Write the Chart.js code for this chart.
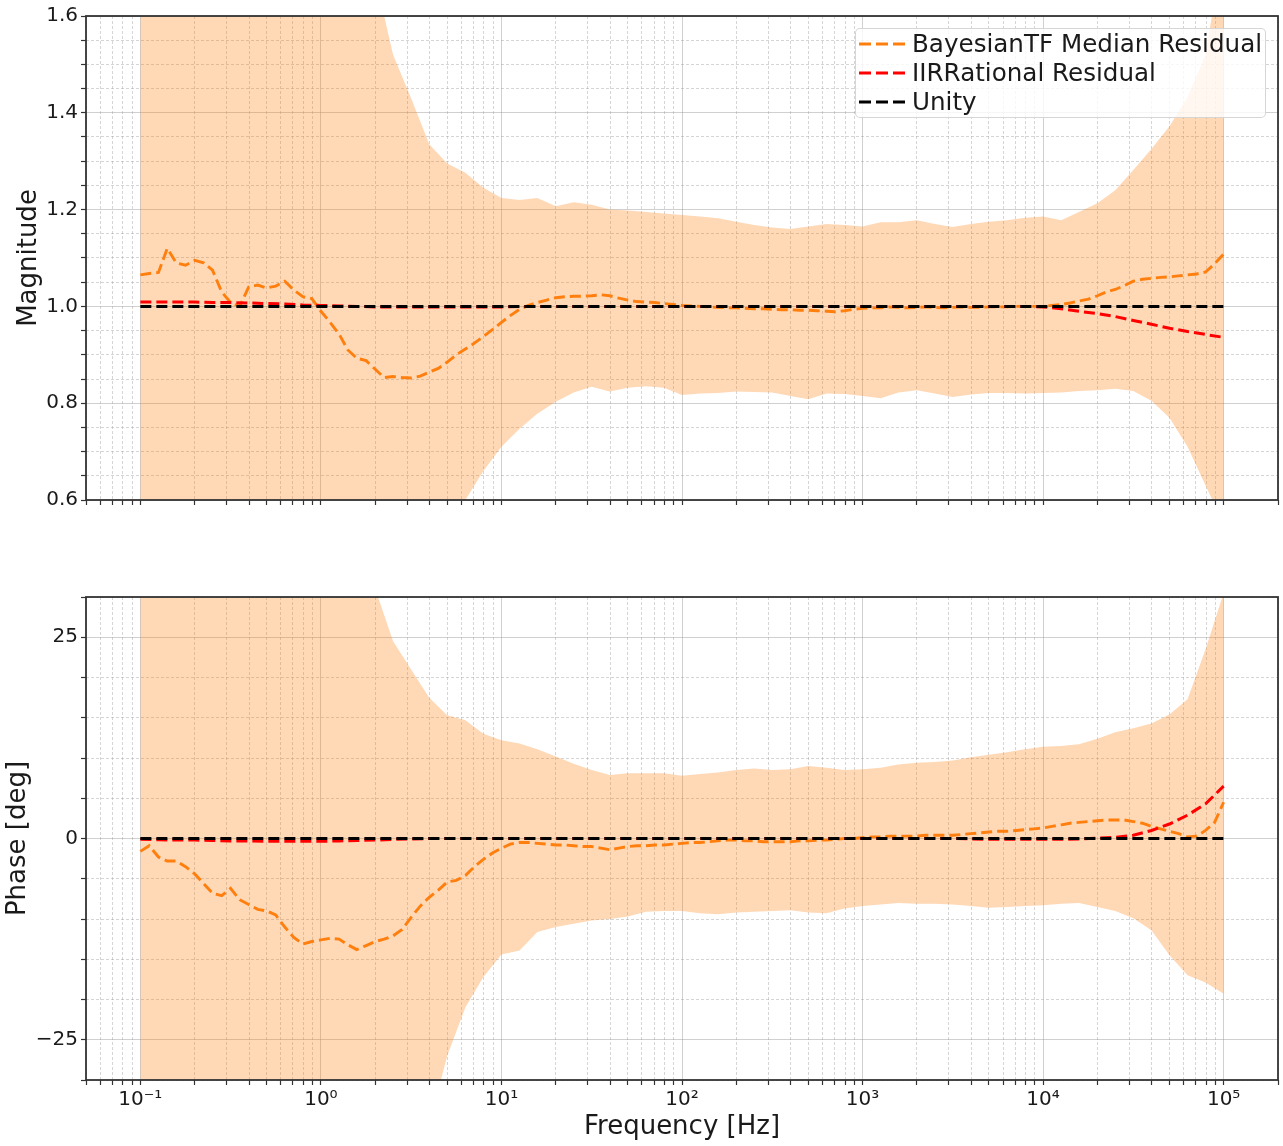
<!DOCTYPE html>
<html><head><meta charset="utf-8">
<script src="https://cdn.jsdelivr.net/npm/chart.js@4.4.1/dist/chart.umd.min.js"></script>
<style>
html,body{margin:0;padding:0;background:#fff;}
#wrap{position:relative;width:1283px;height:1146px;overflow:hidden;background:#fff;}
canvas{position:absolute;left:0;}
#c1{top:0;}
#c2{top:560px;}
#legend{position:absolute;left:855px;top:28px;width:409px;height:88px;border:1px solid rgba(204,204,204,0.8);border-radius:5px;background:rgba(255,255,255,0.8);font-family:'DejaVu Sans';font-size:24.6px;color:#1a1a1a;}
.row{position:absolute;left:0;height:29px;display:flex;align-items:center;white-space:nowrap;}
.row svg{margin-left:3px;margin-right:7px;display:block;}
</style></head>
<body><div id="wrap">
<canvas id="c1" width="1283" height="520"></canvas>
<canvas id="c2" width="1283" height="586"></canvas>
<div id="legend"></div>
</div>
<script>
// ---------- data ----------
const freqFine = [0.1,0.112,0.126,0.141,0.158,0.178,0.2,0.224,0.251,0.282,0.316,0.355,0.398,0.447,0.501,0.562,0.631,0.708,0.794,0.891,
 1,1.12,1.26,1.41,1.58,1.78,2,2.24,2.51,2.82,3.16,3.55,3.98,4.47,5.01,5.62,6.31,7.08,7.94,8.91,
 10,11.2,12.6,14.1,15.8,17.8,20,22.4,25.1,28.2,31.6,35.5,39.8,44.7,50.1,56.2,63.1,70.8,79.4,89.1,
 100,112,126,141,158,178,200,224,251,282,316,355,398,447,501,562,631,708,794,891,
 1000,1120,1260,1410,1580,1780,2000,2240,2510,2820,3160,3550,3980,4470,5010,5620,6310,7080,7940,8910,
 10000,11200,12600,14100,15800,17800,20000,22400,25100,28200,31600,35500,39800,44700,50100,56200,63100,70800,79400,89100,
 100000];
const freqCoarse = [0.1,0.126,0.158,0.2,0.251,0.316,0.398,0.501,0.631,0.794,
 1,1.26,1.58,2,2.51,3.16,3.98,5.01,6.31,7.94,
 10,12.6,15.8,20,25.1,31.6,39.8,50.1,63.1,79.4,
 100,126,158,200,251,316,398,501,631,794,
 1000,1260,1580,2000,2510,3160,3980,5010,6310,7940,
 10000,12600,15800,20000,25100,31600,39800,50100,63100,79400,
 100000];
const unityFreq = [0.1, 100000];

const magMedian = [1.065,1.068,1.070,1.120,1.090,1.085,1.095,1.090,1.075,1.030,
 1.008,1.000,1.040,1.044,1.038,1.042,1.052,1.034,1.020,1.016,
 0.990,0.968,0.943,0.910,0.893,0.888,0.870,0.853,0.855,0.853,
 0.852,0.856,0.864,0.872,0.885,0.900,0.912,0.924,0.938,0.952,
 0.967,0.981,0.994,1.002,1.008,1.013,1.018,1.020,1.021,1.021,
 1.022,1.024,1.022,1.017,1.013,1.010,1.009,1.008,1.006,1.004,
 1.002,1.001,1.000,0.999,0.998,0.997,0.997,0.996,0.995,0.995,
 0.994,0.993,0.993,0.992,0.992,0.991,0.990,0.989,0.991,0.994,
 0.996,0.997,0.997,0.999,0.998,0.997,0.998,0.999,0.998,0.997,
 0.998,0.999,0.998,0.998,0.999,0.999,0.999,1.000,1.000,1.000,
 1.000,1.002,1.004,1.007,1.011,1.015,1.022,1.030,1.035,1.043,
 1.052,1.056,1.058,1.060,1.061,1.063,1.065,1.067,1.071,1.088,
 1.108];
const magIIR = [1.009,1.009,1.009,1.009,1.008,1.008,1.007,1.006,1.005,1.003,
 1.002,1.001,1.000,0.999,0.999,0.999,0.999,0.999,0.999,0.999,
 0.999,1.000,1.000,1.000,1.000,1.000,1.000,1.000,1.000,1.000,
 1.000,1.000,1.000,1.000,1.000,1.000,1.000,1.000,1.000,1.000,
 1.000,1.000,1.000,1.000,1.000,1.000,1.000,1.000,1.000,1.000,
 0.999,0.995,0.990,0.985,0.979,0.971,0.963,0.955,0.948,0.942,
 0.936];
const magUnity = [1, 1];
const magUpper = [3.0,2.9,2.8,2.7,2.6,2.5,2.4,2.3,2.2,2.1,
 2.0,1.9,1.8,1.68,1.52,1.43,1.335,1.295,1.276,1.245,
 1.224,1.22,1.224,1.207,1.215,1.21,1.2,1.198,1.195,1.192,
 1.189,1.186,1.182,1.175,1.168,1.163,1.16,1.165,1.17,1.168,
 1.165,1.174,1.174,1.178,1.17,1.164,1.17,1.175,1.178,1.183,
 1.186,1.178,1.195,1.213,1.24,1.282,1.325,1.372,1.432,1.52,
 1.75];
const magLower = [-0.4,-0.3,-0.2,-0.1,0.0,0.1,0.15,0.2,0.25,0.3,
 0.35,0.38,0.41,0.44,0.47,0.5,0.52,0.545,0.6,0.66,
 0.71,0.747,0.778,0.803,0.822,0.834,0.824,0.832,0.835,0.832,
 0.817,0.82,0.821,0.824,0.823,0.822,0.815,0.808,0.82,0.819,
 0.815,0.81,0.822,0.827,0.82,0.813,0.818,0.821,0.821,0.82,
 0.821,0.822,0.825,0.827,0.83,0.825,0.805,0.77,0.71,0.63,
 0.55];

const phaseMedian = [-1.6,-0.9,-2.3,-2.8,-2.8,-3.5,-4.4,-5.6,-6.8,-7.1,
 -6.2,-7.6,-8.2,-8.8,-9.0,-9.5,-11.0,-12.3,-13.1,-12.8,
 -12.6,-12.4,-12.5,-13.2,-13.8,-13.3,-12.8,-12.5,-12.1,-11.3,
 -9.8,-8.4,-7.3,-6.4,-5.4,-5.2,-4.6,-3.5,-2.6,-1.8,
 -1.2,-0.7,-0.5,-0.5,-0.6,-0.7,-0.8,-0.8,-0.9,-1.0,
 -1.0,-1.2,-1.4,-1.2,-1.0,-0.9,-0.9,-0.8,-0.8,-0.7,
 -0.6,-0.5,-0.5,-0.4,-0.3,-0.2,-0.2,-0.3,-0.3,-0.4,
 -0.4,-0.4,-0.4,-0.3,-0.3,-0.2,-0.2,-0.1,0.0,0.0,
 0.1,0.2,0.2,0.3,0.3,0.3,0.3,0.4,0.4,0.4,
 0.4,0.5,0.6,0.7,0.8,0.9,0.9,1.0,1.1,1.2,
 1.3,1.5,1.7,1.9,2.0,2.1,2.2,2.3,2.3,2.3,
 2.1,1.9,1.5,1.2,0.9,0.6,0.2,0.3,1.0,2.0,
 4.5];
const phaseIIR = [-0.1,-0.15,-0.2,-0.2,-0.25,-0.3,-0.3,-0.35,-0.35,-0.35,
 -0.35,-0.3,-0.25,-0.2,-0.1,-0.05,0,0,0,0,
 0,0,0,0,0,0,0,0,0,0,
 0,0,0,0,0,0,0,0,0,0,
 0,0,0,0,0,0,-0.05,-0.1,-0.1,-0.1,
 -0.1,-0.1,-0.05,0.05,0.15,0.4,1.0,1.8,2.9,4.3,
 6.5];
const phaseUnity = [0, 0];
const phaseUpper = [80,76,72,68,64,60,57,54,51,48,
 45,41,37,31,24.5,21.0,17.5,15.3,14.7,13.0,
 12.2,11.8,11.1,10.2,9.3,8.5,7.9,8.1,8.1,8.1,
 7.8,8.0,8.2,8.5,8.7,8.5,8.6,9.0,8.8,8.5,
 8.6,8.8,9.2,9.4,9.5,9.7,10.1,10.4,10.7,11.1,
 11.4,11.5,11.7,12.4,13.2,13.7,14.3,15.4,17.3,23.5,
 30.5];
const phaseLower = [-90,-85,-80,-75,-70,-66,-62,-58,-55,-52,
 -49,-46,-44,-41.5,-40,-38,-35.5,-27.0,-21.0,-17.2,
 -14.4,-13.9,-11.6,-11.0,-10.6,-10.2,-10.0,-9.7,-9.1,-9.0,
 -9.0,-9.3,-9.4,-9.2,-9.1,-9.0,-8.9,-9.2,-9.3,-8.7,
 -8.4,-8.2,-8.0,-8.1,-8.1,-8.2,-8.4,-8.6,-8.5,-8.4,
 -8.3,-8.1,-8.0,-8.5,-9.0,-9.9,-11.4,-14.5,-17.0,-17.9,
 -19.3];

const seriesLabels = ['BayesianTF Median Residual', 'IIRRational Residual', 'Unity'];
const xAxisTitle = 'Frequency [Hz]';
const magTitle = 'Magnitude';
const phaseTitle = 'Phase [deg]';

// ---------- styling ----------
const X_MIN = 0.05, X_MAX = 2e5;
const ORANGE = '#ff7f0e', RED = '#ff0000', BLACK = '#000000', BAND = 'rgba(255,127,14,0.3)';
const GRID_MAJOR = 'rgba(150,150,150,0.45)';
const GRID_MINOR = 'rgba(150,150,150,0.40)';
const MINOR_DASH = [3, 2];
const LINE_DASH = [11, 5];
const TICK_FONT = {family: 'DejaVu Sans', size: 20};
const TITLE_FONT = {family: 'DejaVu Sans', size: 26};
Chart.defaults.font.family = 'DejaVu Sans';
Chart.defaults.color = '#1a1a1a';

const SUP = {'-':'\u207B','0':'\u2070','1':'\u00B9','2':'\u00B2','3':'\u00B3','4':'\u2074','5':'\u2075','6':'\u2076','7':'\u2077','8':'\u2078','9':'\u2079'};
function isDecade(v){ if(!(v>0)) return false; const l=Math.log10(v); return Math.abs(l-Math.round(l))<1e-6; }
function intMantissa(v){ const e=Math.floor(Math.log10(v)+1e-9); const m=v/Math.pow(10,e); return Math.abs(m-Math.round(m))<1e-6; }
function decadeLabel(v){ const e=String(Math.round(Math.log10(v))); return '10'+e.split('').map(c=>SUP[c]).join(''); }
function pts(xs, ys){ return xs.map((x,i)=>({x:x, y:ys[i]})); }

function xScale(showLabels){
  return {
    type:'logarithmic', min:X_MIN, max:X_MAX,
    afterBuildTicks(scale){ scale.ticks = scale.ticks.filter(t=>intMantissa(t.value)); },
    afterFit(scale){ scale.height = showLabels ? 66 : 20; },
    grid:{ color:ctx=>(ctx.tick && !isDecade(ctx.tick.value)) ? GRID_MINOR : GRID_MAJOR, lineWidth:1, drawTicks:true, tickLength:5, tickColor:'#333', tickWidth:1.2 },
    border:{ display:false, dash:ctx=>(ctx.tick && !isDecade(ctx.tick.value)) ? MINOR_DASH : [] },
    ticks:{ autoSkip:false, maxRotation:0, minRotation:0, padding:3, font:TICK_FONT, color:'#1a1a1a',
      callback:(v)=> (showLabels && isDecade(v)) ? decadeLabel(v) : '' },
    title: showLabels ? {display:true, text:xAxisTitle, font:TITLE_FONT, color:'#1a1a1a', padding:{top:0,bottom:3}} : {display:false}
  };
}
function yScale(min, max, step, majorStep, title, titlePad, fmt){
  const isMaj = v => Math.abs(v/majorStep - Math.round(v/majorStep)) < 1e-6;
  return {
    type:'linear', min:min, max:max,
    afterBuildTicks(scale){ const t=[]; for(let i=0;;i++){ const v=+(min+i*step).toFixed(6); if(v>max+1e-9) break; t.push({value:v}); } scale.ticks=t; },
    afterFit(scale){ scale.width = 86; },
    grid:{ color:ctx=>(ctx.tick && !isMaj(ctx.tick.value)) ? GRID_MINOR : GRID_MAJOR, lineWidth:1, drawTicks:true, tickLength:5, tickColor:'#333', tickWidth:1.2 },
    border:{ display:false, dash:ctx=>(ctx.tick && !isMaj(ctx.tick.value)) ? MINOR_DASH : [] },
    ticks:{ autoSkip:false, padding:3, font:TICK_FONT, color:'#1a1a1a', callback:(v)=> isMaj(v) ? fmt(v) : '' },
    title:{ display:true, text:title, font:TITLE_FONT, color:'#1a1a1a', padding:{top:titlePad,bottom:0} }
  };
}
function makeDatasets(median, iir, unity, upper, lower){
  return [
    {label:seriesLabels[0], data:pts(freqFine, median), borderColor:ORANGE, borderWidth:2.9, borderDash:LINE_DASH, pointRadius:0, fill:false, tension:0, order:3},
    {label:seriesLabels[1], data:pts(freqCoarse, iir), borderColor:RED, borderWidth:3, borderDash:LINE_DASH, pointRadius:0, fill:false, tension:0, order:2},
    {label:seriesLabels[2], data:pts(unityFreq, unity), borderColor:BLACK, borderWidth:3, borderDash:LINE_DASH, pointRadius:0, fill:false, tension:0, order:1},
    {label:'band upper', data:pts(freqCoarse, upper), borderWidth:0, borderColor:'rgba(0,0,0,0)', backgroundColor:BAND, pointRadius:0, fill:'+1', tension:0, order:10},
    {label:'band lower', data:pts(freqCoarse, lower), borderWidth:0, borderColor:'rgba(0,0,0,0)', backgroundColor:BAND, pointRadius:0, fill:false, tension:0, order:11}
  ];
}
const framePlugin = {
  id:'frame',
  afterDraw(chart){
    const {ctx, chartArea:a} = chart;
    ctx.save(); ctx.strokeStyle='#333333'; ctx.lineWidth=1.8; ctx.setLineDash([]);
    ctx.strokeRect(a.left, a.top, a.right-a.left, a.bottom-a.top); ctx.restore();
  }
};
function baseOptions(top, xs, ys){
  return {
    responsive:false, animation:false, devicePixelRatio:1,
    layout:{ padding:{left:0, right:5, top:top, bottom:0} },
    plugins:{ legend:{display:false}, tooltip:{enabled:false} },
    scales:{ x:xs, y:ys }
  };
}
const magChart = new Chart(document.getElementById('c1'), {
  type:'line',
  data:{ datasets: makeDatasets(magMedian, magIIR, magUnity, magUpper, magLower) },
  options: baseOptions(16, xScale(false), yScale(0.6, 1.6, 0.05, 0.2, magTitle, 14, v=>v.toFixed(1))),
  plugins:[framePlugin]
});
const phaseChart = new Chart(document.getElementById('c2'), {
  type:'line',
  data:{ datasets: makeDatasets(phaseMedian, phaseIIR, phaseUnity, phaseUpper, phaseLower) },
  options: baseOptions(37, xScale(true), yScale(-30, 30, 5, 25, phaseTitle, 3, v=> v<0 ? '\u2212'+Math.abs(v) : String(v))),
  plugins:[framePlugin]
});

// HTML legend built from the chart's datasets
const legend = document.getElementById('legend');
magChart.data.datasets.slice(0,3).forEach((ds,k)=>{
  const row = document.createElement('div');
  row.className='row'; row.style.top=(k*29)+'px';
  row.innerHTML = '<svg width="46" height="8"><line x1="0" y1="4" x2="46" y2="4" stroke="'+ds.borderColor+'" stroke-width="3" stroke-dasharray="12,5"/></svg><span>'+ds.label+'</span>';
  legend.appendChild(row);
});
</script></body></html>
